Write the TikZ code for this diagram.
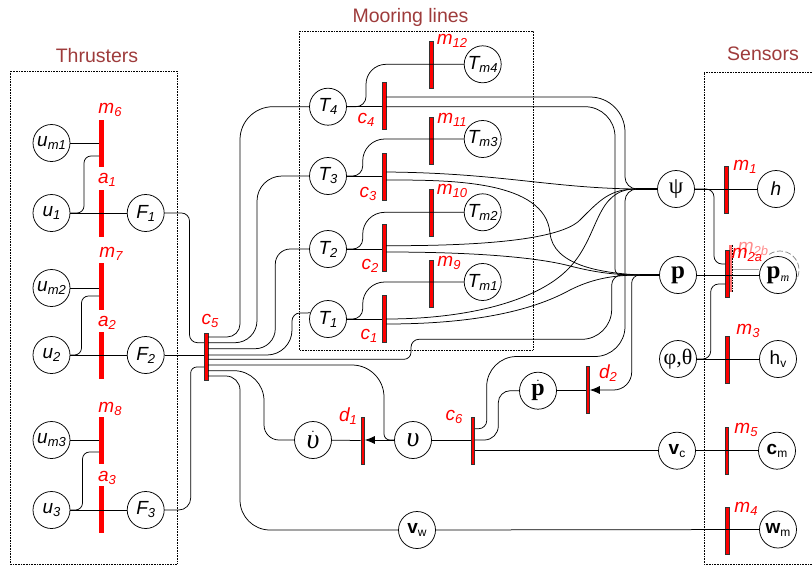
\documentclass[tikz,border=0pt]{standalone}
\usepackage{fontspec}
\usepackage{xcolor}
\usepackage{tikz}
\setmainfont{Liberation Sans}
\newfontfamily\serifont{Liberation Serif}
\usetikzlibrary{arrows.meta,positioning,calc}
\definecolor{titlered}{RGB}{158,59,59}

\newcommand{\lbl}[2]{{\itshape #1\raisebox{-3pt}{\fontsize{13}{13}\selectfont #2}}}
\newcommand{\nlbl}[2]{{#1\raisebox{-3pt}{\fontsize{12}{12}\selectfont #2}}}
\newcommand{\serifsym}[1]{\fontsize{#1}{#1}\selectfont\serifont}

\tikzset{
    state/.style={draw, circle, minimum size=37pt, inner sep=0pt, line width=.75pt, font=\fontsize{19}{19}\selectfont},
    barbox/.style={draw=black!80, fill=red, minimum width=3.6pt, minimum height=47pt, inner sep=0pt, line width=.6pt},
    thbar/.style={fill=red, minimum width=4.4pt, minimum height=47pt, inner sep=0pt},
    redlab/.style={text=red, font=\fontsize{19}{19}\selectfont, inner sep=0pt},
    titlelab/.style={text=titlered, font=\fontsize{19.5}{19.5}\selectfont, inner sep=0pt},
    groupbox/.style={line width=.6pt, densely dotted},
    wire/.style={line width=.75pt, black},
    arrowwire/.style={wire, -{Latex[length=10pt,width=8pt]}}
}

\begin{document}
\begin{tikzpicture}[x=1pt,y=-1pt]
    \useasboundingbox (0,0) rectangle (812,565);

    % Group boxes
    \draw[groupbox] (10,71) rectangle (177,564);
    \draw[groupbox] (299,31) rectangle (533,350);
    \draw[groupbox] (812,72) -- (704,72) -- (704,564) -- (812,564);
    \node[titlelab] (thrusters) at (97,56) {Thrusters};
    \node[titlelab] (mooring) at (410.5,17) {Mooring lines};
    \node[titlelab] (sensors) at (763,54) {Sensors};

    % Thrusters
    \node[state] (um1) at (51.5,143) {\lbl{u}{m1}};
    \node[state] (u1) at (51.5,213) {\lbl{u}{1}};
    \node[state] (F1) at (145.7,213) {\lbl{F}{1}};
    \node[state] (um2) at (51.5,288) {\lbl{u}{m2}};
    \node[state] (u2) at (51.5,355) {\lbl{u}{2}};
    \node[state] (F2) at (145.7,355) {\lbl{F}{2}};
    \node[state] (um3) at (51.5,440) {\lbl{u}{m3}};
    \node[state] (u3) at (51.5,510) {\lbl{u}{3}};
    \node[state] (F3) at (145.7,510) {\lbl{F}{3}};
    \node[thbar] (m6) at (101.5,143.5) {};
    \node[thbar] (a1) at (101.5,213) {};
    \node[thbar] (m7) at (101.5,286.5) {};
    \node[thbar] (a2) at (101.5,355.5) {};
    \node[thbar] (m8) at (101.5,440.5) {};
    \node[thbar] (a3) at (101.5,509.5) {};
    \node[redlab] (lm6) at (110,110) {\lbl{m}{6}};
    \node[redlab] (la1) at (107,180) {\lbl{a}{1}};
    \node[redlab] (lm7) at (111,254) {\lbl{m}{7}};
    \node[redlab] (la2) at (107,323) {\lbl{a}{2}};
    \node[redlab] (lm8) at (110,409) {\lbl{m}{8}};
    \node[redlab] (la3) at (107,478) {\lbl{a}{3}};

    % Mooring lines
    \node[state] (T4) at (328,106.7) {\lbl{T}{4}};
    \node[state] (T3) at (328,176) {\lbl{T}{3}};
    \node[state] (T2) at (328,249) {\lbl{T}{2}};
    \node[state] (T1) at (328,319) {\lbl{T}{1}};
    \node[state] (Tm4) at (482.7,64.3) {\lbl{T}{m4}};
    \node[state] (Tm3) at (482.7,139) {\lbl{T}{m3}};
    \node[state] (Tm2) at (482.7,212.3) {\lbl{T}{m2}};
    \node[state] (Tm1) at (482.7,282) {\lbl{T}{m1}};
    \node[barbox] (c4) at (384,105.7) {};
    \node[barbox] (c3) at (384,176.7) {};
    \node[barbox] (c2) at (384,247.7) {};
    \node[barbox] (c1) at (384,318.7) {};
    \node[barbox] (m12) at (431,64.5) {};
    \node[barbox] (m11) at (431,140.5) {};
    \node[barbox] (m10) at (431,212.5) {};
    \node[barbox] (m9) at (431,283.5) {};
    \node[redlab] (lm12) at (452,41) {\lbl{m}{12}};
    \node[redlab] (lm11) at (452,120) {\lbl{m}{11}};
    \node[redlab] (lm10) at (452,191) {\lbl{m}{10}};
    \node[redlab] (lm9) at (449,263) {\lbl{m}{9}};
    \node[redlab] (lc4) at (366,120) {\lbl{c}{4}};
    \node[redlab] (lc3) at (368,194) {\lbl{c}{3}};
    \node[redlab] (lc2) at (370,266) {\lbl{c}{2}};
    \node[redlab] (lc1) at (369,336) {\lbl{c}{1}};

    % Vessel states
    \node[barbox] (c5) at (206,356.5) {};
    \node[redlab] (lc5) at (210,321) {\lbl{c}{5}};
    \node[state] (nud) at (313,440) {$\dot{\mbox{\serifsym{28}\itshape υ}}$};
    \node[state] (nu) at (413,440) {\serifsym{28}\itshape υ};
    \node[barbox] (d1) at (362.7,440.5) {};
    \node[barbox] (c6) at (472.7,440.5) {};
    \node[redlab] (ld1) at (348,416) {\lbl{d}{1}};
    \node[redlab] (lc6) at (454,417) {\lbl{c}{6}};
    \node[state] (pd) at (538,390.7) {$\dot{\mbox{\serifsym{24}\bfseries p}}$};
    \node[barbox] (d2) at (587.7,389.5) {};
    \node[redlab] (ld2) at (608,373) {\lbl{d}{2}};
    \node[state] (vw) at (417,530) {\nlbl{\textbf{v}}{w}};
    \node[state] (vc) at (677,450.7) {\nlbl{\textbf{v}}{c}};
    \node[state] (psi) at (676,189) {\serifsym{23}ψ};
    \node[state] (p) at (678,275) {\serifsym{25}\bfseries p};
    \node[state] (phi) at (678,359) {\serifsym{22}φ,θ};

    % Sensors
    \node[state] (h) at (776,189) {\textit{h}};
    \node[state] (pm) at (778,275) {{\serifsym{25}\bfseries p}\raisebox{-3pt}{\serifsym{12}\itshape m}};
    \node[state] (hv) at (778,359) {\nlbl{h}{v}};
    \node[state] (cm) at (777,450.7) {\nlbl{\textbf{c}}{m}};
    \node[state] (wm) at (778,529.5) {\nlbl{\textbf{w}}{m}};
    \node[barbox, draw=none, fill=red!55] (m2b) at (730.5,268.5) {};
    \draw[line width=.6pt, densely dotted] (m2b.north east) -- (m2b.south east);
    \node[barbox] (m1) at (726,189.5) {};
    \node[barbox] (m2a) at (727.5,274.2) {};
    \node[barbox] (m3) at (727.5,359.5) {};
    \node[barbox] (m5) at (726.7,450.5) {};
    \node[barbox] (m4) at (727,530.5) {};
    \node[redlab] (lm1) at (745,167) {\lbl{m}{1}};
    \node[redlab, text=red!45] (lm2b) at (753,249) {\lbl{m}{2b}};
    \node[redlab] (lm2a) at (747,255) {\lbl{m}{2a}};
    \node[redlab] (lm3) at (748,331) {\lbl{m}{3}};
    \node[redlab] (lm5) at (746,430) {\lbl{m}{5}};
    \node[redlab] (lm4) at (746,509) {\lbl{m}{4}};
    % Moved measurement
    \coordinate (pmg) at (780,270);
    \draw[line width=.7pt, gray, dash pattern=on 6pt off 2.5pt] (pmg) ++(125:19pt) arc[start angle=125, end angle=-35, radius=19pt];
    \draw[line width=.7pt, gray!70] (m2b.east |- 0,269) -- (pm.west |- 0,269);

    % Thruster wires
    \draw[wire] (um1) -- (um1 -| m6.west);
    \draw[wire] (um2) -- (um2 -| m7.west);
    \draw[wire] (um3) -- (um3 -| m8.west);
    \draw[wire] (u1) -- (F1);
    \draw[wire] (u2) -- (F2);
    \draw[wire] (u3) -- (F3);
    \draw[wire, rounded corners=7pt] (u1.east) -- (84,213) -- (84,156) -- (m6.west |- 0,156);
    \draw[wire, rounded corners=7pt] (u2.east) -- (81.5,355) -- (81.5,296) -- (m7.west |- 0,296);
    \draw[wire, rounded corners=7pt] (u3.east) -- (82.5,510) -- (82.5,452) -- (m8.west |- 0,452);
    \draw[wire, rounded corners=8pt] (F1.east) -- (189.5,213) -- (189.5,342.7) -- (c5.west |- 0,342.7);
    \draw[wire] (F2) -- (c5.west |- F2);
    \draw[wire, rounded corners=12pt] (F3.east) -- (190.7,510) [rounded corners=6pt] -- (190.7,367) -- (c5.west |- 0,367);

    % Wires out of c5
    \draw[wire, rounded corners=13pt] (c5.east |- 0,337) -- (240,337) [rounded corners=33pt] -- (240,106.7) -- (T4.west);
    \draw[wire, rounded corners=22pt] (c5.east |- 0,342.7) -- (257,342.7) [rounded corners=25pt] -- (257,176) -- (T3.west);
    \draw[wire, rounded corners=20pt] (c5.east |- 0,348.7) -- (275.3,348.7) [rounded corners=15pt] -- (275.3,249) -- (T2.west);
    \draw[wire, rounded corners=25pt] (c5.east |- 0,355) -- (292,355) [rounded corners=8pt] -- (292,313) -- (T1.161);
    \coordinate (pj) at (640,275);
    \coordinate (psij) at (636,189);
    \draw[wire, rounded corners=7pt] (c5.east |- 0,359.3) -- (411,359.3) [rounded corners=8pt] -- (411,339.3) [rounded corners=30pt] -- (611.7,339.3) [rounded corners=10pt] -- (611.7,275) -- (pj);
    \draw[wire, rounded corners=32pt] (c5.east |- 0,365) -- (384,365) [rounded corners=6pt] -- (384,440) -- (nu.west);
    \draw[wire, rounded corners=30pt] (c5.east |- 0,370.7) -- (264,370.7) [rounded corners=15pt] -- (264,440) -- (nud.west);
    \draw[wire, rounded corners=14pt] (c5.east |- 0,376) -- (240,376) [rounded corners=30pt] -- (240,530) -- (vw.west);

    % Kinematics
    \draw[arrowwire] (nu.west) -- (d1.east |- nu);
    \draw[wire] (d1) -- (nud);
    \draw[wire] (nu) -- (c6.west |- nu);
    \draw[wire, rounded corners=8pt] (c6.east |- 0,428.7) -- (486.7,428.7) [rounded corners=30pt] -- (486.7,356.5) -- (625,356.5) [rounded corners=12pt] -- (625,189) -- (psij);
    \draw[wire, rounded corners=14pt] (c6.east |- 0,440) -- (498.3,440) [rounded corners=12pt] -- (498.3,390.7) -- (pd.west);
    \draw[wire] (c6.east |- vc) -- (vc);
    \draw[wire] (pd) -- (d2.west |- pd);
    \draw[arrowwire, rounded corners=8pt] (pj) -- (631.7,275) [rounded corners=18pt] -- (631.7,390) -- (d2.east |- 0,390);

    % Wires out of c1 .. c4
    \draw[wire, rounded corners=35pt] (c4.east |- 0,97) -- (625,97) [rounded corners=12pt] -- (625,189) -- (psij);
    \draw[wire, rounded corners=30pt] (c4.east |- 0,106.7) -- (615,106.7) [rounded corners=6pt] -- (615,275) -- (pj);
    \draw[wire] (c3.east |- 0,172) .. controls (500,173) and (550,188) .. (psij);
    \draw[wire] (c3.east |- 0,180) .. controls (450,180) and (545,180) .. (550,233) .. controls (553,265) and (600,273) .. (pj);
    \draw[wire] (c2.east |- 0,245.7) .. controls (480,246) and (560,240) .. (580,220) .. controls (600,200) and (610,189) .. (psij);
    \draw[wire] (c2.east |- 0,252) .. controls (480,252) and (540,258) .. (570,266) .. controls (590,271) and (610,275) .. (pj);
    \draw[wire] (c1.east |- 0,319) .. controls (470,319) and (540,300) .. (570,267) .. controls (600,235) and (595,189) .. (psij);
    \draw[wire] (c1.east |- 0,324) .. controls (470,324) and (530,312) .. (570,290) .. controls (590,280) and (610,275) .. (pj);
    \draw[wire, line width=1.2pt] (psij) -- (psi);
    \draw[wire, line width=1.2pt] (pj) -- (p);

    % Tension wires
    \draw[wire] (T4) -- (c4.west |- T4);
    \draw[wire] (T3) -- (c3.west |- T3);
    \draw[wire] (T2) -- (c2.west |- T2);
    \draw[wire] (T1) -- (c1.west |- T1);
    \draw[wire, rounded corners=10pt] (T4.east) -- (366,106.7) [rounded corners=20pt] -- (366,64.3) -- (Tm4.west);
    \draw[wire, rounded corners=10pt] (T3.east) -- (362.7,176) [rounded corners=22pt] -- (362.7,139) -- (Tm3.west);
    \draw[wire, rounded corners=10pt] (T2.east) -- (362.7,249) [rounded corners=22pt] -- (362.7,212.3) -- (Tm2.west);
    \draw[wire, rounded corners=10pt] (T1.east) -- (362.7,319) [rounded corners=22pt] -- (362.7,282) -- (Tm1.west);

    % Measurement wires
    \draw[wire] (psi) -- (h);
    \draw[wire] (p) -- (pm);
    \draw[wire] (phi) -- (hv);
    \draw[wire] (vc) -- (cm);
    \draw[wire] (vw) -- (wm);
    \draw[wire, rounded corners=8pt] (psi.east) -- (714,189) -- (714,264) -- (m2a.west |- 0,264);
    \draw[wire, rounded corners=8pt] (phi.east) -- (710.7,359) -- (710.7,284) -- (m2a.west |- 0,284);
\end{tikzpicture}
\end{document}
